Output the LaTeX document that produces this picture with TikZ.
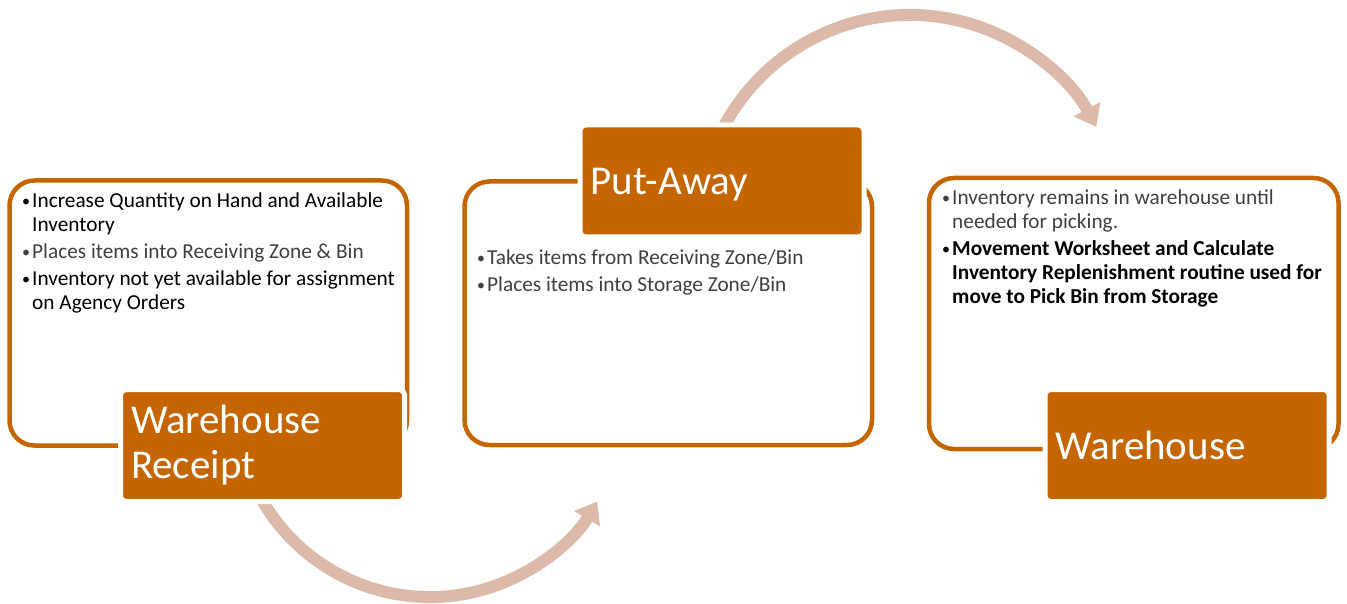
\documentclass[tikz,border=0pt]{standalone}
\usepackage{fontspec}
\setmainfont{Carlito}
\usetikzlibrary{arrows.meta}
\definecolor{rust}{HTML}{C46500}
\definecolor{blush}{HTML}{DDB9AA}
\definecolor{inkgray}{HTML}{3F3F3F}
% one bullet point with hanging indent
\newcommand{\bitem}[2][black]{\par\hangindent=10pt\hangafter=1\noindent{\color{#1}\makebox[10pt][l]{\raisebox{1.2pt}{\fontsize{16}{16}\selectfont\textbullet}}#2}}
% a block of bullet points, baseline on the first line
\newcommand{\bulletblock}[2]{\vtop{\hsize=#1\parindent=0pt\parskip=3pt\raggedright\fontsize{21.3}{24}\selectfont #2\par}}

\begin{document}
\begin{tikzpicture}[x=1pt, y=-1pt,
	panel/.style={draw=rust, line width=4.5pt, rounded corners=25pt, inner sep=0pt},
	tagbox/.style={fill=rust, draw=white, line width=5pt, rounded corners=6pt, minimum width=284pt, minimum height=112pt, text width=263pt, inner xsep=10.5pt, inner ysep=0pt, align=left, text=white, font=\fontsize{41}{45}\selectfont},
	flowarrow/.style={draw=blush, line width=12pt, -{Triangle[width=29pt, length=20pt]}}]
	\useasboundingbox (0,0) rectangle (1347,604);
	% arcs go first, the tags cover their start
	\coordinate (recstart) at (247.7,469.4); % on circle round (430,403), r=194
	\coordinate (putstart) at (711.7,153.8); % on circle round (910,226), r=211
	\draw[flowarrow] (recstart) arc[start angle=160, end angle=30.5, radius=194];
	\draw[flowarrow] (putstart) arc[start angle=200, end angle=332, radius=211];
	% outer panels
	\node[panel, minimum width=397.5pt, minimum height=265pt] (recpanel) at (208.25,313) {};
	\node[panel, minimum width=407.5pt, minimum height=263.5pt] (putpanel) at (668.25,313.25) {};
	\node[panel, minimum width=409.5pt, minimum height=271pt] (whpanel) at (1133.75,313.5) {};
	% bullet texts
	\node[anchor=base west, inner sep=0pt] (rectext) at (22,208) {\bulletblock{385pt}{%
		\bitem{Increase Quantity on Hand and Available\newline Inventory}%
		\bitem[inkgray]{Places items into Receiving Zone \& Bin}%
		\bitem{Inventory not yet available for assignment\newline on Agency Orders}}};
	\node[anchor=base west, inner sep=0pt] (puttext) at (477,265) {\bulletblock{385pt}{%
		\bitem[inkgray]{Takes items from Receiving Zone/Bin}%
		\bitem[inkgray]{Places items into Storage Zone/Bin}}};
	\node[anchor=base west, inner sep=0pt] (whtext) at (942,205) {\bulletblock{390pt}{%
		\bitem[inkgray]{Inventory remains in warehouse until\newline needed for picking.}%
		\bitem{\bfseries Movement Worksheet and Calculate\newline Inventory Replenishment routine used for\newline move to Pick Bin from Storage}}};
	% tags on the panels
	\node[tagbox] (rectag) at (262.5,445.5) {Warehouse\\Receipt};
	\node[tagbox] (puttag) at (722,181) {\rule{0pt}{33pt}Put-Away};
	\node[tagbox] (whtag) at (1187,445.5) {Warehouse};
\end{tikzpicture}
\end{document}
